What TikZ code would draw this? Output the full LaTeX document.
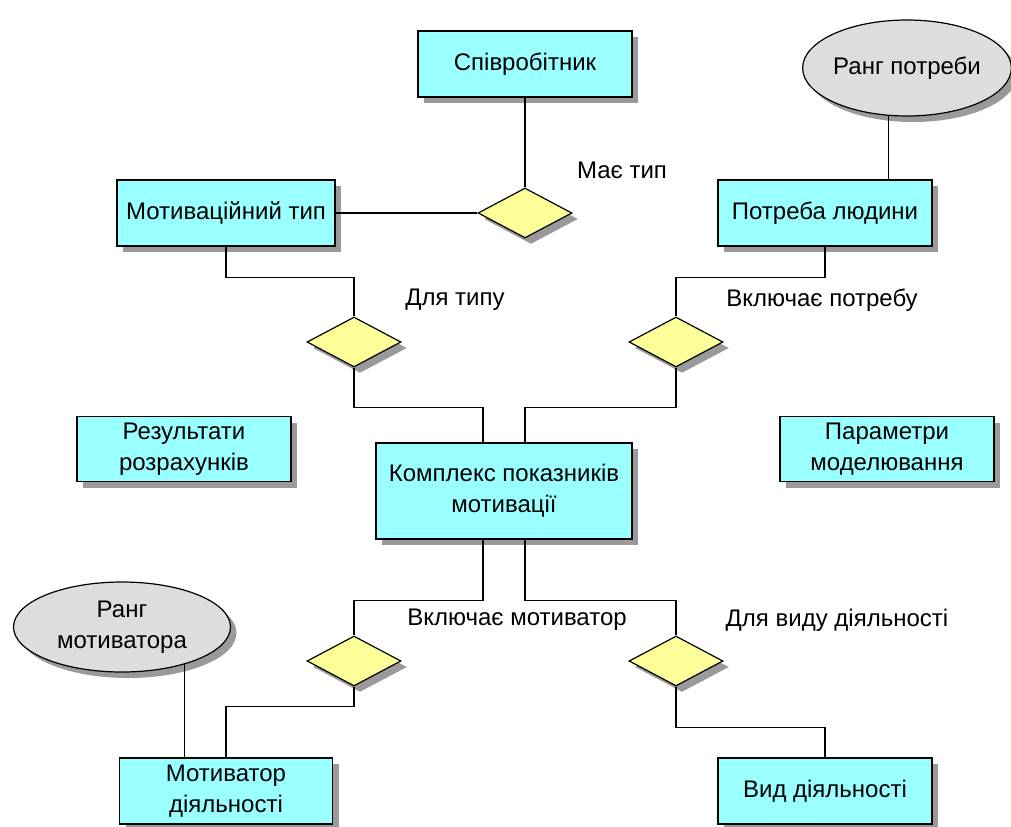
\documentclass[tikz,border=0pt]{standalone}
\usepackage{fontspec}
\setmainfont{Liberation Sans}
\usetikzlibrary{shapes.geometric,shadows,calc}
\definecolor{entc}{HTML}{99FFFF}
\definecolor{relc}{HTML}{FFFF99}
\definecolor{attc}{HTML}{DDDDDD}
\definecolor{shc}{HTML}{9A9A9A}
\begin{document}
\begin{tikzpicture}[x=0.75pt,y=-0.75pt,
  every node/.style={font=\fontsize{18}{23.25}\selectfont, text=black},
  shad/.style={drop shadow={shadow xshift=4.5pt,shadow yshift=-4.5pt,fill=shc,opacity=1}},
  ent/.style={rectangle, draw=black, line width=0.9pt, fill=entc, shad, align=center,
    minimum width=214*0.75pt, minimum height=66*0.75pt, inner sep=0pt},
  rel/.style={diamond, draw=black, line width=0.9pt, fill=relc, shad, inner sep=0pt,
    minimum width=94*0.75pt, minimum height=50*0.75pt},
  attr/.style={ellipse, draw=black, line width=0.9pt, fill=attc, shad, align=center, inner sep=0pt},
  lbl/.style={inner sep=0pt},
  con/.style={draw=black, line width=0.9pt}]
\useasboundingbox (0,0) rectangle (1011,826);

% entities
\node[ent] (sp) at (525,64) {Співробітник};
\node[ent, minimum width=218*0.75pt] (mt) at (226,213) {Мотиваційний тип};
\node[ent] (pl) at (825,213) {Потреба людини};
\node[ent, minimum height=96*0.75pt, minimum width=256*0.75pt] (kp) at (504,491) {Комплекс показників\\мотивації};
\node[ent, minimum height=65*0.75pt] (rr) at (184,449) {Результати\\розрахунків};
\node[ent, minimum height=65*0.75pt] (pm) at (887,449) {Параметри\\моделювання};
\node[ent, minimum width=213*0.75pt] (md) at (226,791) {Мотиватор\\діяльності};
\node[ent] (vd) at (825,791) {Вид діяльності};

% attributes
\node[attr, minimum width=207*0.75pt, minimum height=96*0.75pt] (rp) at (907,68) {Ранг потреби};
\node[attr, minimum width=217*0.75pt, minimum height=90*0.75pt] (rm) at (122,627) {Ранг\\мотиватора};

% relationships
\node[rel] (d1) at (525,213) {};
\node[rel] (d2) at (354,342) {};
\node[rel] (d3) at (676,342) {};
\node[rel] (d4) at (354,661) {};
\node[rel] (d5) at (676,661) {};

% labels
\node[lbl] (l1) at (622,170) {Має тип};
\node[lbl] (l2) at (455,300) {Для типу};
\node[lbl] (l3) at (822,300) {Включає потребу};
\node[lbl] (l4) at (517,620) {Включає мотиватор};
\node[lbl] (l5) at (837,620) {Для виду діяльності};

% connectors
\draw[con] (sp.south) -- (d1.north);
\draw[con] (mt.east) -- (d1.west);
\draw[con] (rp.-111) -- (rp.-111 |- pl.north);
\draw[con] (mt.south) -- ++(0,31) -| (d2.north);
\draw[con] (pl.south) -- ++(0,31) -| (d3.north);
\draw[con] (d2.south) -- ++(0,40) -| ([xshift=-21*0.75pt]kp.north);
\draw[con] (d3.south) -- ++(0,40) -| ([xshift=21*0.75pt]kp.north);
\draw[con] ([xshift=-21*0.75pt]kp.south) -- ++(0,61) -| (d4.north);
\draw[con] ([xshift=21*0.75pt]kp.south) -- ++(0,61) -| (d5.north);
\draw[con] (d4.south) -- ++(0,20) -| (md.north);
\draw[con] (d5.south) -- ++(0,41) -| (vd.north);
\draw[con] (rm.-31) -- (rm.-31 |- md.north);
\end{tikzpicture}
\end{document}
